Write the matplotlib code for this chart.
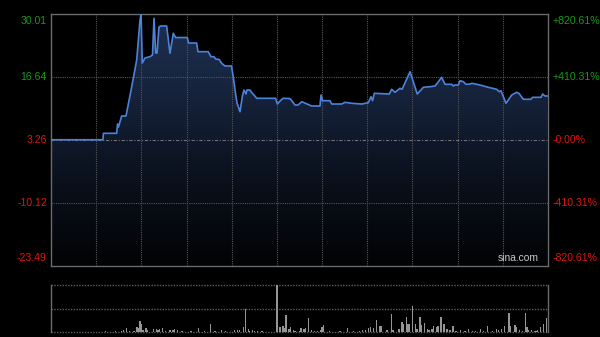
import numpy as np
import matplotlib
matplotlib.use("Agg")
import matplotlib.pyplot as plt
from matplotlib.colors import LinearSegmentedColormap
from matplotlib.patches import Polygon

# ---------------- data ----------------
base_price = 3.26
price_ticks = [30.01, 16.64, 3.26, -10.12, -23.49]
pct_labels = ["+820.61%", "+410.31%", "-0.00%", "-410.31%", "-820.61%"]

# minutes since 09:30 (HK session, 330 minutes) and price
minutes = [0, 34.5, 34.8, 43.6, 44.2, 44.8, 46.9, 49.8, 53.6, 56.9, 59.1, 59.8, 60.6, 62.4,
           65.7, 67.4, 68.4, 69.5, 70.4, 71.7, 72.7, 76.8, 79.0, 81.2, 82.7, 90.5, 91.3, 96.7,
           97.6, 104.4, 106.2, 108.2, 109.6, 111.5, 113.3, 115.5, 119.8, 121.0, 122.2, 123.5,
           125.5, 127.0, 128.1, 129.5, 130.1, 132.1, 133.5, 134.8, 136.6, 149.1, 150.3, 152.1,
           154.0, 158.0, 159.0, 162.0, 164.0, 166.5, 173.1, 178.6, 179.3, 180.3, 185.2, 186.4,
           193.0, 195.2, 199.7, 206.3, 210.7, 212.5, 213.5, 214.7, 224.6, 226.2, 228.4, 231.7,
           233.1, 238.4, 243.2, 247.2, 251.6, 255.0, 257.2, 259.4, 261.6, 266.1, 267.1, 268.2,
           270.4, 271.6, 273.8, 275.5, 278.2, 279.5, 284.8, 290.4, 295.9, 297.7, 298.8, 302.1,
           305.9, 309.2, 310.7, 313.6, 318.7, 319.8, 325.3, 326.5, 328.0, 329.7]
prices = [3.26, 3.26, 4.63, 4.63, 6.60, 5.96, 8.29, 8.29, 14.50, 20.16, 28.63, 30.01, 19.52, 20.58,
          20.86, 21.22, 28.99, 21.64, 21.64, 27.15, 27.36, 27.36, 21.58, 25.81, 24.92, 24.92, 23.76, 23.76,
          21.92, 21.92, 20.86, 20.86, 20.31, 20.31, 19.46, 18.89, 18.89, 16.62, 13.80, 11.05,
          9.20, 12.38, 13.80, 12.95, 13.80, 13.80, 13.17, 12.74, 12.04, 12.04, 10.83, 11.47,
          12.04, 12.00, 11.89, 10.62, 10.62, 11.32, 10.41, 10.41, 12.74, 11.53, 11.53, 10.83,
          10.83, 11.19, 10.98, 10.83, 11.11, 12.38, 11.53, 13.10, 12.95, 13.95, 13.31, 14.16,
          13.95, 17.68, 12.95, 14.37, 14.50, 14.65, 15.56, 16.49, 15.01, 15.01, 14.65, 14.86,
          14.86, 15.77, 15.56, 15.01, 15.07, 15.22, 14.86, 14.37, 13.95, 13.44, 13.65, 10.98,
          12.74, 13.31, 13.10, 11.83, 11.83, 12.25, 12.25, 12.95, 12.53, 12.53]

vol_minutes = [36, 43, 47, 48, 50, 52, 55, 57, 58, 59, 60, 61, 63, 64, 68, 70, 71, 72, 74, 76,
               79, 81, 82, 84, 87, 93, 98, 102, 106, 109, 113, 116, 122, 124, 125, 128, 129, 131,
               132, 134, 135, 137, 140, 150, 152, 154, 155, 156, 158, 159, 161, 162, 165, 166,
               168, 169, 171, 173, 175, 177, 179, 180, 181, 185, 192, 197, 201, 205, 207, 209,
               211, 212, 214, 216, 218, 219, 223, 226, 227, 231, 233, 234, 236, 237, 238, 240,
               242, 243, 245, 246, 248, 250, 251, 253, 254, 256, 257, 259, 261, 263, 265, 267,
               269, 272, 275, 277, 280, 282, 285, 287, 290, 293, 296, 297, 299, 301, 304, 305,
               308, 309, 311, 313, 315, 316, 317, 319, 321, 322, 323, 325, 327, 329]
volumes = [10, 10, 15, 20, 40, 15, 15, 50, 45, 110, 85, 20, 45, 20, 30, 30, 20, 30, 40, 15,
           20, 25, 30, 20, 10, 15, 45, 10, 80, 10, 20, 10, 20, 25, 20, 55, 230, 30,
           15, 20, 15, 15, 10, 470, 55, 65, 40, 170, 35, 50, 20, 10, 15, 45,
           35, 45, 140, 20, 10, 15, 20, 50, 70, 10, 10, 45, 10, 15, 20, 20,
           40, 50, 45, 120, 60, 60, 20, 180, 20, 30, 100, 85, 150, 85, 80, 260,
           85, 35, 150, 70, 95, 35, 20, 35, 60, 50, 60, 150, 85, 35, 20, 60,
           15, 20, 10, 35, 10, 15, 30, 10, 60, 15, 35, 20, 35, 60, 190, 60,
           70, 55, 20, 15, 187, 55, 20, 20, 10, 10, 20, 55, 80, 137]

# ---------------- style ----------------
BG = "#000000"
GRID = "#555555"
FRAME = "#6a6a6a"
LINE = "#4d82da"
GREEN = "#149c14"
RED = "#e0160f"
FONT = "Liberation Sans"
FS = 7.6

fig = plt.figure(figsize=(6.0, 3.37), dpi=100, facecolor=BG)
ax = fig.add_axes([51 / 600, 71 / 337, 497 / 600, 252.5 / 337], facecolor=BG)
axv = fig.add_axes([51 / 600, 5 / 337, 497 / 600, 47 / 337], facecolor=BG)

ymin, ymax = price_ticks[-1], price_ticks[0]
ax.set_xlim(0, 330)
ax.set_ylim(ymin, ymax)

# gradient fill under the line
cmap = LinearSegmentedColormap.from_list("fill", ["#020304", "#0a101c", "#15223a", "#1e3152"])
grad = np.linspace(0, 1, 256).reshape(-1, 1)
im = ax.imshow(grad, extent=[0, 330, ymin, ymax], origin="lower", aspect="auto",
               cmap=cmap, zorder=1, interpolation="bilinear")
poly_xy = [(minutes[0], ymin)] + list(zip(minutes, prices)) + [(minutes[-1], ymin)]
poly = Polygon(poly_xy, closed=True, transform=ax.transData, facecolor="none", edgecolor="none")
ax.add_patch(poly)
im.set_clip_path(poly)

# grid
for m in range(30, 330, 30):
    ax.axvline(m, color=GRID, lw=0.8, ls=(0, (1, 1)), zorder=2)
for v in [price_ticks[1], price_ticks[3]]:
    ax.axhline(v, color=GRID, lw=0.8, ls=(0, (1, 1)), zorder=2)
ax.axhline(base_price, color="#707070", lw=0.8, ls=(0, (3, 1.5, 1, 1.5)), zorder=2)

ax.plot(minutes, prices, color=LINE, lw=1.2, zorder=3, solid_joinstyle="round")

ax.set_xticks([])
ax.set_yticks([])
for s in ax.spines.values():
    s.set_color(FRAME)
    s.set_linewidth(1.0)

# labels
vas = ["top", "center", "center", "center", "bottom"]
offs = [-2, 0, 0, 0, 2]
for i, (v, pl) in enumerate(zip(price_ticks, pct_labels)):
    col = GREEN if v > base_price else RED
    ax.annotate(f"{v:.2f}", xy=(0, v), xytext=(-3, offs[i]), textcoords="offset points",
                ha="right", va=vas[i], color=col, fontsize=FS, family=FONT)
    ax.annotate(pl, xy=(1, v), xycoords=("axes fraction", "data"), xytext=(3, offs[i]),
                textcoords="offset points", ha="left", va=vas[i], color=col, fontsize=FS, family=FONT)

ax.text(0.982, 0.012, "sina.com", transform=ax.transAxes, ha="right", va="bottom",
        color="#c8c8c8", fontsize=7.4, family=FONT, zorder=4)

# volume panel
vmax = max(volumes)
axv.set_xlim(0, 330)
axv.set_ylim(0, vmax)
axv.bar(vol_minutes, volumes, width=0.9, color="#959595", zorder=3, linewidth=0)
for v in [0, vmax / 2, vmax]:
    axv.axhline(v, color="#5f5f5f", lw=1.0, ls=(0, (1, 1)), zorder=2, clip_on=False)
axv.set_xticks([])
axv.set_yticks([])
for k in ["top", "bottom"]:
    axv.spines[k].set_visible(False)
for k in ["left", "right"]:
    axv.spines[k].set_color(FRAME)
    axv.spines[k].set_linewidth(1.0)

fig.savefig("out.png", dpi=100, facecolor=BG)
